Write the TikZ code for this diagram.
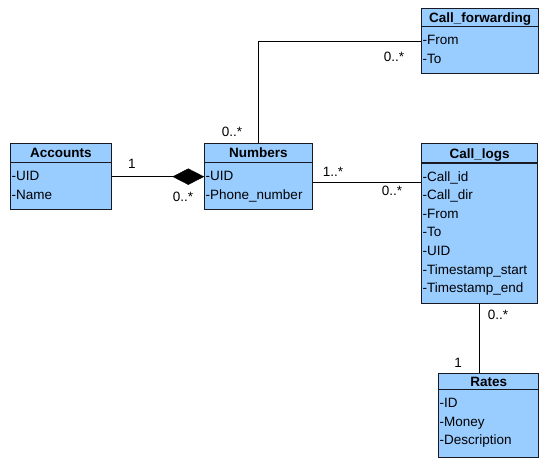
\documentclass[tikz,border=0pt]{standalone}
\usepackage{fontspec}
\setmainfont{Liberation Sans}
\usetikzlibrary{shapes.geometric,calc}
\definecolor{clsfill}{RGB}{153,204,255}
\definecolor{clsline}{RGB}{25,25,35}
\tikzset{
  every node/.style={font=\fontsize{13.5}{16}\selectfont, inner sep=0pt},
  clsbox/.style={draw=clsline, fill=clsfill, line width=1.3pt, rectangle, anchor=north west},
  clstitle/.style={anchor=base, font=\fontsize{13.5}{16}\selectfont\bfseries},
  attr/.style={anchor=base west},
  conn/.style={draw=black, line width=1pt},
  mult/.style={anchor=center}
}
\newcommand\umlcls[8]{%
  \node[clsbox, minimum width=#4pt, minimum height=#5pt] (#1) at (#2,#3) {};
  \draw[clsline, line width=1.3pt] ([yshift=-#6pt]#1.north west) -- ([yshift=-#6pt]#1.north east);
  \node[clstitle] (#1-t) at ($(#1.north)+(0,#6/2+5)$) {#7};
  \foreach \r [count=\i] in {#8} {
    \node[attr] (#1-\i) at ($(#1.north west)+(1.5,#6+18+18.6*\i-18.6)$) {\r};
  }%
}
\begin{document}
\begin{tikzpicture}[x=1pt,y=-1pt]
\useasboundingbox[fill=white] (0,0) rectangle (551,472);

\umlcls{acc}{10}{143}{100.5}{66}{19.5}{Accounts}{-UID,-Name}
\umlcls{num}{204}{143}{107.5}{66}{19.5}{Numbers}{-UID,-Phone\_number}
\umlcls{cf}{421}{8}{117}{65}{18.5}{Call\_forwarding}{-From,-To}
\umlcls{cl}{421}{143}{116}{160}{20}{Call\_logs}{-Call\_id,-Call\_dir,-From,-To,-UID,-Timestamp\_start,-Timestamp\_end}
\umlcls{rates}{438}{373}{100}{84}{16.5}{Rates}{-ID,-Money,-Description}

% composition diamond
\node[draw=black, fill=black, diamond, minimum width=31pt, minimum height=16pt, anchor=east] (dia) at (num.west) {};

% connectors
\draw[conn] (acc.east) -- (dia.west);
\draw[conn] (num.north) |- (cf.west);
\coordinate (nc) at ([yshift=-6pt]num.east);
\draw[conn] (nc) -- (nc -| cl.west);
\draw[conn] (cl.south) -- (cl.south |- rates.north);

% multiplicities
\node[mult] (m1) at (132,164) {1};
\node[mult] (m2) at (183,197) {0..*};
\node[mult] (m3) at (232,132) {0..*};
\node[mult] (m4) at (394,57) {0..*};
\node[mult] (m5) at (333,172) {1..*};
\node[mult] (m6) at (392,191) {0..*};
\node[mult] (m7) at (498,315) {0..*};
\node[mult] (m8) at (458,363) {1};
\end{tikzpicture}
\end{document}
